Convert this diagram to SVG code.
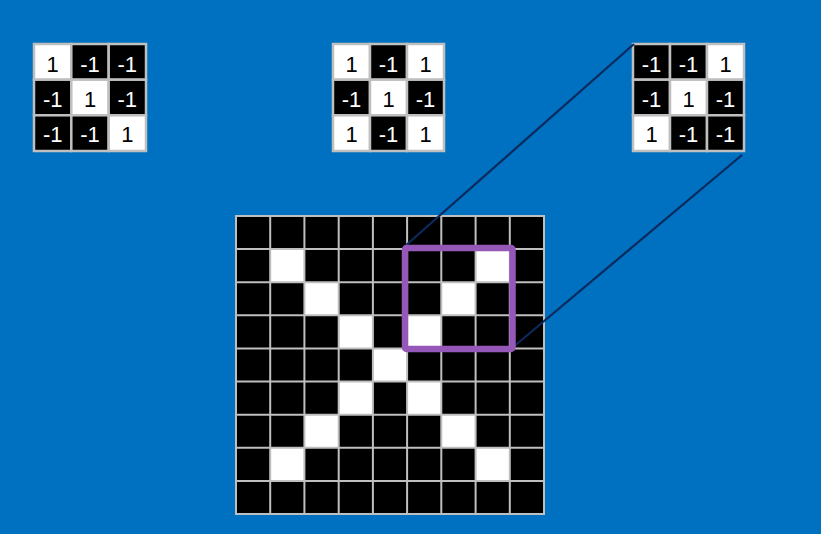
<svg xmlns="http://www.w3.org/2000/svg" width="821" height="534" viewBox="0 0 821 534">
<style>
.b{fill:#000;stroke:#bfbfbf;stroke-width:2.5}
.w{fill:#fff;stroke:#bfbfbf;stroke-width:2.5}
.tw{fill:#fff;font-family:"Liberation Sans",Arial,sans-serif;font-size:22px;text-anchor:middle}
.tb{fill:#000;font-family:"Liberation Sans",Arial,sans-serif;font-size:22px;text-anchor:middle}
.gl{stroke:#bfbfbf;stroke-width:2;fill:none}
.cn{stroke:#0c2a5c;stroke-width:2.2;fill:none}
</style>
<rect x="0" y="0" width="821" height="534" fill="#0070c0"/>
<g id="filter1">
<rect class="w" x="34" y="44" width="37.3" height="35.7"/>
<rect class="b" x="71.3" y="44" width="37.4" height="35.7"/>
<rect class="b" x="108.7" y="44" width="37.3" height="35.7"/>
<rect class="b" x="34" y="79.7" width="37.3" height="35.6"/>
<rect class="w" x="71.3" y="79.7" width="37.4" height="35.6"/>
<rect class="b" x="108.7" y="79.7" width="37.3" height="35.6"/>
<rect class="b" x="34" y="115.3" width="37.3" height="35.7"/>
<rect class="b" x="71.3" y="115.3" width="37.4" height="35.7"/>
<rect class="w" x="108.7" y="115.3" width="37.3" height="35.7"/>
<text class="tb" x="52.7" y="71.5">1</text><text class="tw" x="90" y="71.5">-1</text><text class="tw" x="127.3" y="71.5">-1</text>
<text class="tw" x="52.7" y="106.5">-1</text><text class="tb" x="90" y="106.5">1</text><text class="tw" x="127.3" y="106.5">-1</text>
<text class="tw" x="52.7" y="142">-1</text><text class="tw" x="90" y="142">-1</text><text class="tb" x="127.3" y="142">1</text>
</g>
<g id="filter2">
<rect class="w" x="333" y="44" width="37" height="35.7"/>
<rect class="b" x="370" y="44" width="37" height="35.7"/>
<rect class="w" x="407" y="44" width="37" height="35.7"/>
<rect class="b" x="333" y="79.7" width="37" height="35.6"/>
<rect class="w" x="370" y="79.7" width="37" height="35.6"/>
<rect class="b" x="407" y="79.7" width="37" height="35.6"/>
<rect class="w" x="333" y="115.3" width="37" height="35.7"/>
<rect class="b" x="370" y="115.3" width="37" height="35.7"/>
<rect class="w" x="407" y="115.3" width="37" height="35.7"/>
<text class="tb" x="351.5" y="71.5">1</text><text class="tw" x="388.5" y="71.5">-1</text><text class="tb" x="425.5" y="71.5">1</text>
<text class="tw" x="351.5" y="106.5">-1</text><text class="tb" x="388.5" y="106.5">1</text><text class="tw" x="425.5" y="106.5">-1</text>
<text class="tb" x="351.5" y="142">1</text><text class="tw" x="388.5" y="142">-1</text><text class="tb" x="425.5" y="142">1</text>
</g>
<g id="filter3">
<rect class="b" x="633" y="44" width="37" height="35.7"/>
<rect class="b" x="670" y="44" width="37" height="35.7"/>
<rect class="w" x="707" y="44" width="37" height="35.7"/>
<rect class="b" x="633" y="79.7" width="37" height="35.6"/>
<rect class="w" x="670" y="79.7" width="37" height="35.6"/>
<rect class="b" x="707" y="79.7" width="37" height="35.6"/>
<rect class="w" x="633" y="115.3" width="37" height="35.7"/>
<rect class="b" x="670" y="115.3" width="37" height="35.7"/>
<rect class="b" x="707" y="115.3" width="37" height="35.7"/>
<text class="tw" x="651.5" y="71.5">-1</text><text class="tw" x="688.5" y="71.5">-1</text><text class="tb" x="725.5" y="71.5">1</text>
<text class="tw" x="651.5" y="106.5">-1</text><text class="tb" x="688.5" y="106.5">1</text><text class="tw" x="725.5" y="106.5">-1</text>
<text class="tb" x="651.5" y="142">1</text><text class="tw" x="688.5" y="142">-1</text><text class="tw" x="725.5" y="142">-1</text>
</g>
<g id="image">
<rect x="236" y="216" width="308" height="298" fill="#000"/>
<g fill="#fff">
<rect x="270.2" y="249.1" width="34.2" height="33.1"/>
<rect x="475.6" y="249.1" width="34.2" height="33.1"/>
<rect x="304.4" y="282.2" width="34.2" height="33.1"/>
<rect x="441.3" y="282.2" width="34.2" height="33.1"/>
<rect x="338.7" y="315.3" width="34.2" height="33.1"/>
<rect x="407.1" y="315.3" width="34.2" height="33.1"/>
<rect x="372.9" y="348.4" width="34.2" height="33.1"/>
<rect x="338.7" y="381.6" width="34.2" height="33.1"/>
<rect x="407.1" y="381.6" width="34.2" height="33.1"/>
<rect x="304.4" y="414.7" width="34.2" height="33.1"/>
<rect x="441.3" y="414.7" width="34.2" height="33.1"/>
<rect x="270.2" y="447.8" width="34.2" height="33.1"/>
<rect x="475.6" y="447.8" width="34.2" height="33.1"/>
</g>
<path class="gl" d="M236,215V515M270.2,215V515M304.4,215V515M338.7,215V515M372.9,215V515M407.1,215V515M441.3,215V515M475.6,215V515M509.8,215V515M544,215V515M235,216H545M235,249.1H545M235,282.2H545M235,315.3H545M235,348.4H545M235,381.6H545M235,414.7H545M235,447.8H545M235,480.9H545M235,514H545"/>
</g>
<g id="connectors">
<line class="cn" x1="404" y1="247" x2="634" y2="44"/>
<line class="cn" x1="512" y1="348" x2="742" y2="155"/>
</g>
<g id="highlight">
<rect x="405" y="248" width="107.5" height="101" rx="1.5" fill="none" stroke="#9558b9" stroke-width="6.5"/>
</g>
</svg>
